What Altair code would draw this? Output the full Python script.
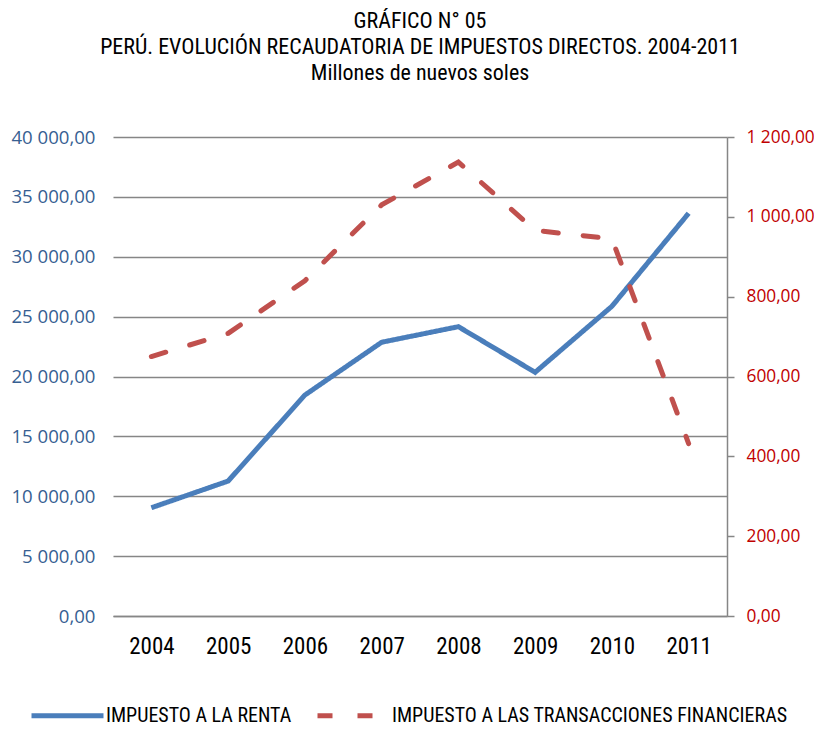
import altair as alt
import pandas as pd

years = ["2004", "2005", "2006", "2007", "2008", "2009", "2010", "2011"]
renta = [9040, 11270, 18450, 22860, 24160, 20350, 25860, 33630]
itf = [650, 708, 840, 1030, 1137, 966, 945, 432]
series = ["IMPUESTO A LA RENTA", "IMPUESTO A LAS TRANSACCIONES FINANCIERAS"]
colors = ["#4A7EBB", "#C0504D"]

rows = []
for y, v in zip(years, renta):
    rows.append({"year": y, "value": v, "serie": series[0]})
for y, v in zip(years, itf):
    rows.append({"year": y, "value": v, "serie": series[1]})
df = pd.DataFrame(rows)

NARROW = "Liberation Sans Narrow, Roboto Condensed, Liberation Sans, sans-serif"
YFONT = "Open Sans, Noto Sans, DejaVu Sans"
GRID = "#868686"

fmt = "replace(replace(format(datum.value, ',.2f'), ',', ' '), '.', ',')"

base = alt.Chart(df).encode(
    x=alt.X("year:N", sort=years, title=None,
            axis=alt.Axis(labelAngle=0, labelFont=NARROW, labelFontSize=23,
                          labelColor="#000000", ticks=False, domainColor=GRID,
                          domainWidth=1.5, labelPadding=19, grid=False)),
    color=alt.Color("serie:N", scale=alt.Scale(domain=series, range=colors),
                    legend=alt.Legend(title=None)),
    strokeDash=alt.StrokeDash("serie:N", scale=alt.Scale(domain=series, range=[[1, 0], [15, 25]]),
                              legend=alt.Legend(title=None)),
)

left = base.transform_filter(alt.datum.serie == series[0]).mark_line(
    strokeWidth=5, strokeCap="butt", strokeJoin="miter"
).encode(
    y=alt.Y("value:Q", title=None,
            scale=alt.Scale(domain=[0, 40000], nice=False),
            axis=alt.Axis(values=list(range(0, 40001, 5000)), labelExpr=fmt, grid=True,
                          gridColor=GRID, gridWidth=1.5, ticks=False, domain=False,
                          labelFont=YFONT, labelFontSize=18.6, labelColor="#376092",
                          labelPadding=18))
)

right = base.transform_filter(alt.datum.serie == series[1]).mark_line(
    strokeWidth=5, strokeCap="round"
).encode(
    y=alt.Y("value:Q", title=None,
            scale=alt.Scale(domain=[0, 1200], nice=False),
            axis=alt.Axis(orient="right", values=list(range(0, 1201, 200)), labelExpr=fmt,
                          grid=False, ticks=True, tickSize=7, tickColor=GRID, tickWidth=1.5,
                          domain=True, domainColor=GRID, domainWidth=1.5,
                          labelFont=YFONT, labelFontSize=17.3, labelColor="#C00000",
                          labelPadding=12))
)

chart = alt.layer(left, right).resolve_scale(y="independent").properties(
    width=614, height=479,
    autosize=alt.AutoSizeParams(type="none"),
    padding={"left": 105, "top": 129, "right": 87, "bottom": 111},
    title=alt.TitleParams(
        text=["GRÁFICO N° 05",
              "PERÚ. EVOLUCIÓN RECAUDATORIA DE IMPUESTOS DIRECTOS. 2004-2011",
              "Millones de nuevos soles"],
        font=NARROW, fontSize=22, fontWeight="normal", color="#000000",
        anchor="middle", lineHeight=26, offset=43),
).configure_view(stroke=None).configure_legend(
    orient="none", legendX=-57, legendY=567, direction="horizontal",
    symbolType="M-4,0H4", symbolSize=324, symbolStrokeWidth=5,
    labelFont=NARROW, labelFontSize=20, labelColor="#000000", labelLimit=0,
    columnPadding=15, labelOffset=27, padding=0,
)

chart.save("out.html", embed_options={"renderer": "svg", "actions": False})
